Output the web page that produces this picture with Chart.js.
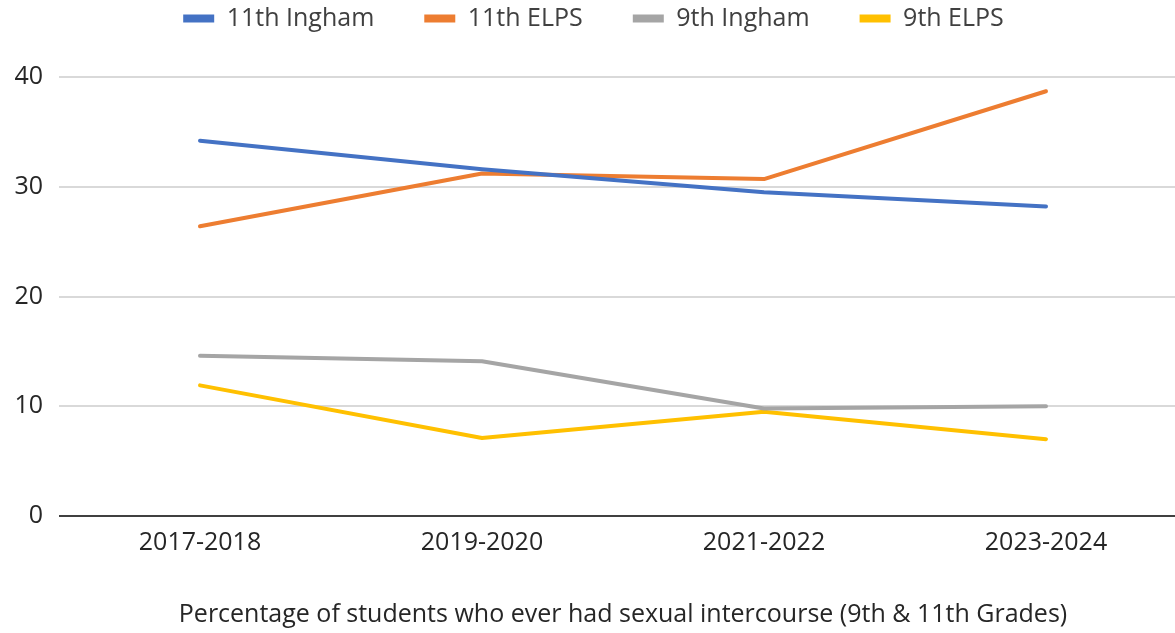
<!DOCTYPE html>
<html>
<head>
<meta charset="utf-8">
<script src="https://cdn.jsdelivr.net/npm/chart.js@4"></script>
<style>
  html, body { margin: 0; padding: 0; background: #fff; overflow: hidden; }
  #wrap { width: 1187px; height: 633px; }
</style>
</head>
<body>
<div id="wrap"><canvas id="chart" width="1187" height="633"></canvas></div>
<script>
// ===================== DATA =====================
const years = ['2017-2018', '2019-2020', '2021-2022', '2023-2024'];
const ingham11 = [34.2, 31.6, 29.5, 28.2];
const elps11 = [26.4, 31.2, 30.7, 38.7];
const ingham9 = [14.6, 14.1, 9.8, 10.0];
const elps9 = [11.9, 7.1, 9.5, 7.0];
const yTicks = [0, 10, 20, 30, 40];
const xTitle = 'Percentage of students who ever had sexual intercourse (9th & 11th Grades)';

const FONT = "'Open Sans', sans-serif";
const SIZE = 25;

function line(label, data, color) {
    return {
        label: label,
        data: data,
        borderColor: color,
        backgroundColor: color,
        borderWidth: 4,
        borderCapStyle: 'round',
        borderJoinStyle: 'round',
        tension: 0,
        pointRadius: 0,
        fill: false
    };
}

// legend padding is big (for the gaps between items), so the legend box
// starts above the canvas and is stretched to push the plot down to y=77
const legendSpacer = {
    id: 'legendSpacer',
    beforeInit(chart) {
        const fit = chart.legend.fit;
        chart.legend.fit = function () {
            fit.call(this);
            this.height = 121;
        };
    }
};

const ctx = document.getElementById('chart').getContext('2d');
const chart = new Chart(ctx, {
    type: 'line',
    data: {
        labels: years,
        datasets: [
            line('11th Ingham', ingham11, '#4472C4'),
            line('11th ELPS', elps11, '#ED7D31'),
            line('9th Ingham', ingham9, '#A5A5A5'),
            line('9th ELPS', elps9, '#FFC000')
        ]
    },
    options: {
        responsive: false,
        animation: false,
        layout: { padding: { top: -44, left: 0, right: 0, bottom: 0 } },
        plugins: {
            legend: {
                position: 'top',
                labels: {
                    font: { family: FONT, size: SIZE },
                    color: '#404040',
                    boxWidth: 31,
                    boxHeight: 8,
                    padding: 50,
                    generateLabels(chart) {
                        return Chart.defaults.plugins.legend.labels.generateLabels(chart)
                            .map(l => Object.assign(l, { lineWidth: 0 }));
                    }
                }
            },
            tooltip: { enabled: false }
        },
        scales: {
            x: {
                offset: true,
                grid: { display: false, drawTicks: false },
                border: { display: false },
                ticks: {
                    font: { family: FONT, size: SIZE },
                    color: '#262626',
                    padding: 12
                },
                title: {
                    display: true,
                    text: xTitle,
                    font: { family: FONT, size: SIZE },
                    color: '#262626',
                    padding: { top: 0, bottom: 3 }
                },
                afterFit(scale) { scale.height = 117; }
            },
            y: {
                min: 0,
                max: 40,
                afterBuildTicks(scale) { scale.ticks = yTicks.map(v => ({ value: v })); },
                grid: {
                    drawTicks: false,
                    lineWidth: 2,
                    color: c => c.tick && c.tick.value === 0 ? '#404040' : '#D9D9D9'
                },
                border: { display: false },
                ticks: {
                    font: { family: FONT, size: SIZE },
                    color: '#262626',
                    padding: 16
                },
                afterFit(scale) { scale.width = 59; }
            }
        }
    },
    plugins: [legendSpacer]
});
</script>
</body>
</html>
